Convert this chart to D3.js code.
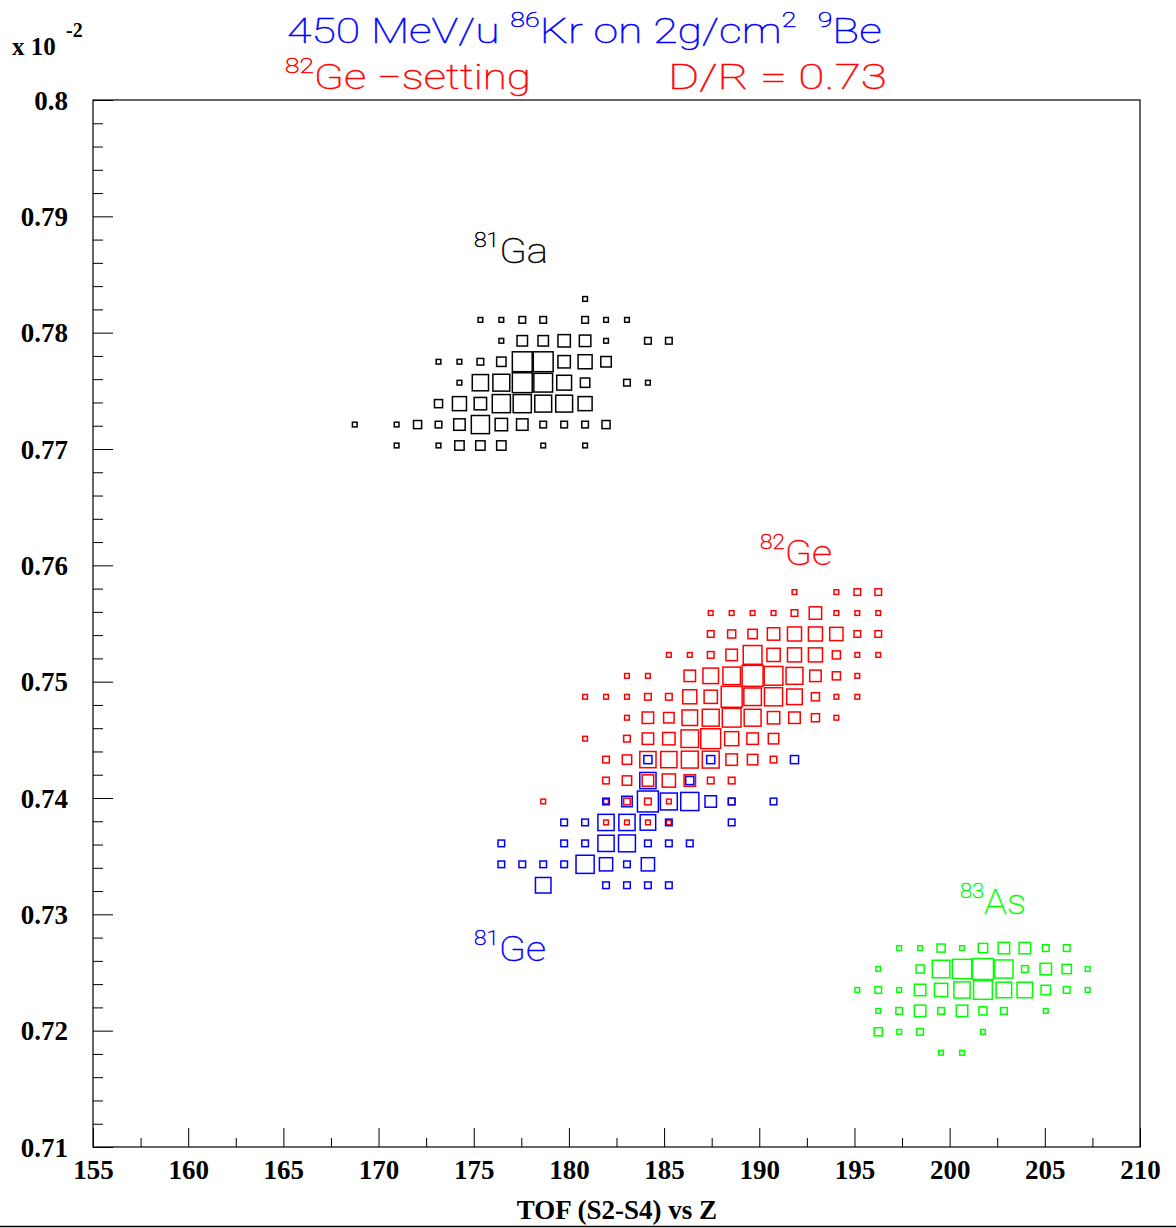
<!DOCTYPE html>
<html><head><meta charset="utf-8">
<script src="https://cdn.jsdelivr.net/npm/d3@7"></script>
<style>body{margin:0;background:#fff} svg{display:block}</style>
</head><body><svg id="c" width="1176" height="1228"></svg>
<script>
// ---------- data ----------
const xDomain = [155, 210];
const yDomain = [0.71, 0.80];
const nBins = 50;
const xTickValues = [155,160,165,170,175,180,185,190,195,200,205,210];
const yTickValues = [0.71,0.72,0.73,0.74,0.75,0.76,0.77,0.78,0.79,0.80];
const yTickLabels = ["0.71","0.72","0.73","0.74","0.75","0.76","0.77","0.78","0.79","0.8"];
const maxCount = 20;

// cells: [xBin, yBin, count]
const ga81 = [
 [23,40,1],
 [18,39,1],[19,39,1],[20,39,2],[21,39,2],[23,39,2],[24,39,1],[25,39,1],
 [19,38,1],[20,38,5],[21,38,5],[22,38,7],[23,38,6],[24,38,1],[26,38,2],[27,38,2],
 [16,37,1],[17,37,1],[18,37,2],[19,37,4],[20,37,18],[21,37,18],[22,37,7],[23,37,9],[24,37,5],
 [17,36,1],[18,36,12],[19,36,13],[20,36,18],[21,36,16],[22,36,10],[23,36,4],[25,36,2],[26,36,1],
 [16,35,3],[17,35,9],[18,35,7],[19,35,15],[20,35,15],[21,35,13],[22,35,13],[23,35,9],
 [12,34,1],[14,34,1],[15,34,3],[16,34,2],[17,34,6],[18,34,15],[19,34,7],[20,34,6],[21,34,2],[22,34,2],[23,34,2],[24,34,3],
 [14,33,1],[16,33,1],[17,33,4],[18,33,4],[19,33,4],[21,33,1],[23,33,1]
];
const ge82 = [
 [33,26,1],[35,26,1],[36,26,2],[37,26,2],
 [29,25,1],[30,25,1],[31,25,1],[32,25,1],[33,25,2],[34,25,7],[35,25,1],[36,25,1],[37,25,1],
 [29,24,2],[30,24,3],[31,24,4],[32,24,7],[33,24,9],[34,24,9],[35,24,8],[36,24,2],[37,24,2],
 [27,23,1],[28,23,1],[29,23,2],[30,23,6],[31,23,16],[32,23,8],[33,23,9],[34,23,9],[35,23,3],[36,23,1],[37,23,1],
 [25,22,1],[26,22,1],[28,22,6],[29,22,11],[30,22,14],[31,22,20],[32,22,16],[33,22,13],[34,22,6],[35,22,3],[36,22,1],
 [23,21,1],[24,21,1],[25,21,1],[26,21,2],[27,21,2],[28,21,9],[29,21,8],[30,21,20],[31,21,14],[32,21,15],[33,21,11],[34,21,3],[35,21,1],[36,21,1],
 [25,20,1],[26,20,6],[27,20,5],[28,20,11],[29,20,13],[30,20,16],[31,20,13],[32,20,7],[33,20,6],[34,20,3],[35,20,1],
 [23,19,1],[25,19,2],[26,19,6],[27,19,7],[28,19,14],[29,19,18],[30,19,9],[31,19,6],[32,19,5],
 [24,18,2],[25,18,4],[26,18,12],[27,18,12],[28,18,13],[29,18,13],[30,18,6],[31,18,5],[32,18,2],
 [24,17,2],[25,17,4],[26,17,6],[27,17,8],[28,17,6],[29,17,2],[30,17,2],
 [21,16,1],[24,16,1],[25,16,2],[26,16,2],[27,16,1],[30,16,2],
 [24,15,1],[25,15,1],[26,15,1],[27,15,1]
];
const ge81 = [
 [26,18,3],[29,18,3],[33,18,3],
 [26,17,12],[28,17,3],
 [24,16,2],[25,16,5],[26,16,20],[27,16,13],[28,16,15],[29,16,6],[30,16,2],[32,16,2],
 [22,15,2],[23,15,2],[24,15,12],[25,15,12],[26,15,11],[27,15,2],[30,15,2],
 [19,14,2],[22,14,2],[23,14,2],[24,14,12],[25,14,13],[26,14,2],[27,14,2],[28,14,2],
 [19,13,2],[20,13,2],[21,13,2],[22,13,2],[23,13,15],[24,13,8],[25,13,2],[26,13,8],
 [21,12,11],[24,12,2],[25,12,2],[26,12,2],[27,12,2]
];
const as83 = [
 [38,9,1],[39,9,1],[40,9,3],[41,9,1],[42,9,4],[43,9,6],[44,9,6],[45,9,2],[46,9,2],
 [37,8,1],[39,8,3],[40,8,14],[41,8,17],[42,8,20],[43,8,15],[44,8,2],[45,8,6],[46,8,4],[47,8,1],
 [36,7,1],[37,7,2],[38,7,1],[39,7,6],[40,7,8],[41,7,12],[42,7,16],[43,7,11],[44,7,11],[45,7,4],[46,7,2],[47,7,1],
 [37,6,1],[38,6,2],[39,6,6],[40,6,2],[41,6,6],[42,6,3],[43,6,2],[45,6,1],
 [37,5,3],[38,5,1],[39,5,2],[42,5,1],
 [40,4,1],[41,4,1]
];
const series = [
 {name:"81Ga", cells:ga81, color:"#000000"},
 {name:"82Ge", cells:ge82, color:"#ff0000"},
 {name:"81Ge", cells:ge81, color:"#0000ff"},
 {name:"83As", cells:as83, color:"#00ff00"}
];

// ---------- drawing ----------
const svg = d3.select("#c");
const L=93, R=1140, T=100, B=1147;
const xs = d3.scaleLinear().domain(xDomain).range([L,R]);
const ys = d3.scaleLinear().domain(yDomain).range([B,T]);
const bx = (xDomain[1]-xDomain[0])/nBins, by = (yDomain[1]-yDomain[0])/nBins;
const binPx = xs(xDomain[0]+bx)-xs(xDomain[0]);
const side = d3.scaleSqrt().domain([0,maxCount]).range([0,binPx]);

const tickFont = "'Liberation Serif','Times New Roman',serif";

// boxes
series.forEach(s=>{
  svg.append("g").selectAll("rect").data(s.cells).join("rect")
    .attr("x", d=> xs(xDomain[0]+(d[0]+0.5)*bx) - side(d[2])/2)
    .attr("y", d=> ys(yDomain[0]+(d[1]+0.5)*by) - side(d[2])/2)
    .attr("width", d=>side(d[2]))
    .attr("height", d=>side(d[2]))
    .attr("fill","none").attr("stroke",s.color).attr("stroke-width",1.5);
});

// axes
const xMinor = d3.range(157.5, 210, 5);
const yMinor = d3.range(0, 46).map(k=>0.71+k*0.002).filter(v=>Math.abs(Math.round(v*100)-v*100)>1e-6);
svg.append("g").attr("transform",`translate(0,${B})`)
  .call(d3.axisBottom(xs).tickValues(xTickValues).tickSize(-19).tickPadding(13).tickFormat(d3.format("d")));
svg.append("g").attr("transform",`translate(0,${B})`)
  .call(d3.axisBottom(xs).tickValues(xMinor).tickSize(-9).tickFormat(""));
const gy = svg.append("g").attr("transform",`translate(${L},0)`)
  .call(d3.axisLeft(ys).tickValues(yTickValues).tickSize(-20).tickPadding(25).tickFormat((d,i)=>yTickLabels[i]));
svg.append("g").attr("transform",`translate(${L},0)`)
  .call(d3.axisLeft(ys).tickValues(yMinor).tickSize(-10).tickFormat(""));
svg.selectAll(".domain").remove();
svg.selectAll(".tick line").attr("stroke","#000").attr("stroke-width",1);
svg.selectAll(".tick text").attr("font-family",tickFont).attr("font-weight","bold")
  .attr("font-size",27).attr("fill","#000");
gy.selectAll(".tick text").attr("dy","0.34em");

// frame
svg.append("rect").attr("x",L).attr("y",T).attr("width",R-L).attr("height",B-T)
  .attr("fill","none").attr("stroke","#000").attr("stroke-width",1.2);
svg.append("line").attr("x1",0).attr("x2",1176).attr("y1",1226.5).attr("y2",1226.5)
  .attr("stroke","#000").attr("stroke-width",1.5);

// axis title
svg.append("text").attr("x",617).attr("y",1219).attr("text-anchor","middle")
  .attr("font-family",tickFont).attr("font-weight","bold").attr("font-size",27)
  .text("TOF (S2-S4) vs Z");

// exponent label
svg.append("text").attr("x",12).attr("y",55)
  .attr("font-family",tickFont).attr("font-weight","bold").attr("font-size",25).text("x 10");
svg.append("text").attr("x",66).attr("y",37)
  .attr("font-family",tickFont).attr("font-weight","bold").attr("font-size",20).text("-2");

// helper: text with parts [{t, sup}]
const lightFont = "Roboto, 'Open Sans', 'DejaVu Sans', sans-serif";
function rich(x, y, parts, color, size, supSize, x1){
  const t = svg.append("text").attr("x",x).attr("y",y).attr("fill",color)
    .attr("stroke",color).attr("stroke-width",0.5)
    .attr("font-family",lightFont).attr("font-weight",100).attr("font-size",size)
    .attr("xml:space","preserve").style("white-space","pre");
  let up=false;
  parts.forEach(p=>{
    const ts = t.append("tspan").text(p.t);
    if(p.sup){ ts.attr("font-size",supSize); if(!up){ts.attr("dy",-size*0.45); up=true;} }
    else { if(up){ts.attr("dy",size*0.45); up=false;} }
  });
  if(x1!=null){
    const bb = t.node().getBBox();
    const k = (x1-x)/bb.width;
    t.attr("transform",`translate(${x},0) scale(${k},1) translate(${-bb.x},0)`);
  }
  return t;
}

// title
rich(287, 43, [{t:"450 MeV/u "},{t:"86",sup:true},{t:"Kr on 2g/cm"},{t:"2",sup:true},{t:"  "},{t:"9",sup:true},{t:"Be"}],
  "#0000ff", 35, 21, 882);
rich(285, 89, [{t:"82",sup:true},{t:"Ge −setting"}], "#ff0000", 35, 21, 531);
rich(668, 89, [{t:"D/R = 0.73"}], "#ff0000", 35, 21, 887);

// cluster labels
rich(474, 263, [{t:"81",sup:true},{t:"Ga"}], "#000000", 35, 20, 548);
rich(760, 565, [{t:"82",sup:true},{t:"Ge"}], "#ff0000", 35, 20, 832);
rich(474, 961, [{t:"81",sup:true},{t:"Ge"}], "#0000ff", 35, 20, 546);
rich(960, 914, [{t:"83",sup:true},{t:"As"}], "#00ff00", 35, 20, 1026);
</script></body></html>
